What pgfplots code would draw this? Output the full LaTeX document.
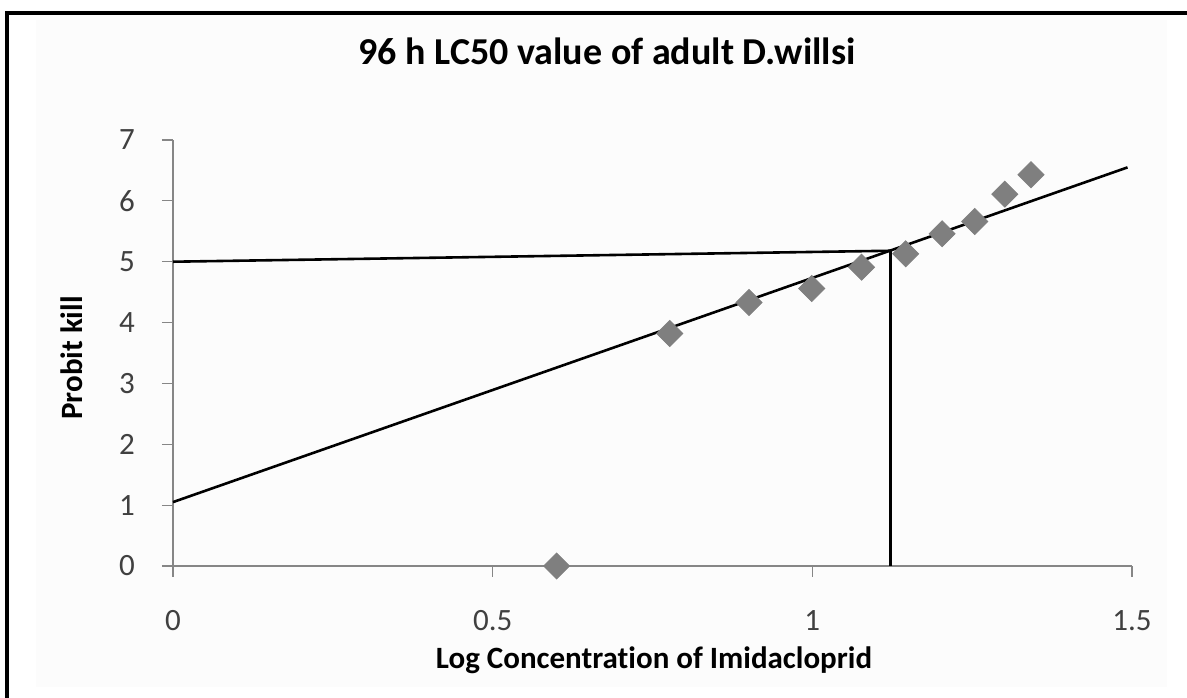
\documentclass[border=0pt]{standalone}
\usepackage{pgfplots}
\pgfplotsset{compat=1.18}
\usepackage{fontspec}
\setmainfont{Carlito}[Ligatures=NoCommon]
\definecolor{markgrey}{HTML}{7F7F7F}
\definecolor{axisgrey}{HTML}{868686}
\definecolor{ticktext}{HTML}{404040}
\definecolor{bggrey}{HTML}{FCFCFC}
\begin{document}
\begin{tikzpicture}
\useasboundingbox (0,0) rectangle (593.5bp,349bp);
\fill[bggrey] (18bp,5.5bp) rectangle (583.5bp,339bp);
\draw[line width=1.6bp,black] (3.5bp,-2bp) -- (3.5bp,342.5bp) -- (596bp,342.5bp);
\begin{axis}[
  at={(86.5bp,66bp)}, anchor=south west,
  scale only axis,
  width=479.5bp, height=213bp,
  xmin=0, xmax=1.5, ymin=0, ymax=7,
  axis x line*=bottom, axis y line*=left,
  axis line style={axisgrey, line width=0.6bp, -},
  xtick={0,0.5,1,1.5}, ytick={0,1,2,3,4,5,6,7},
  xticklabels={0,0.5,1,1.5},
  tick align=outside,
  major tick length=5.5bp,
  tick style={axisgrey, line width=0.6bp},
  /pgf/number format/assume math mode=true,
  ticklabel style={font=\fontsize{15.5bp}{18bp}\selectfont, text=ticktext},
  xticklabel style={anchor=base, yshift=-27bp},
  yticklabel style={anchor=east, xshift=-10bp},
  clip=false,
]
\addplot[only marks, mark=square*, mark size=4.6bp,
  mark options={rotate=45, fill=markgrey, draw=markgrey}]
  coordinates {
  (0.600,0.00)
  (0.777,3.82)
  (0.901,4.33)
  (0.999,4.56)
  (1.077,4.91)
  (1.146,5.13)
  (1.203,5.46)
  (1.254,5.66)
  (1.301,6.11)
  (1.342,6.43)
  };
\addplot[black, line width=1.3bp] coordinates {(0,1.05) (1.493,6.55)};
\addplot[black, line width=1.3bp] coordinates {(0,5.00) (1.122,5.18)};
\addplot[black, line width=1.4bp] coordinates {(1.122,0) (1.122,5.18)};
\end{axis}
\node[anchor=base, font=\bfseries\fontsize{19bp}{22bp}\selectfont] at (303.5bp,316.5bp) {96 h LC50 value of adult D.willsi};
\node[anchor=base, font=\bfseries\fontsize{15.5bp}{18bp}\selectfont] at (327bp,15bp) {Log Concentration of Imidacloprid};
\node[anchor=base, rotate=90, font=\bfseries\fontsize{15.5bp}{18bp}\selectfont] at (41bp,170bp) {Probit kill};
\end{tikzpicture}
\end{document}
